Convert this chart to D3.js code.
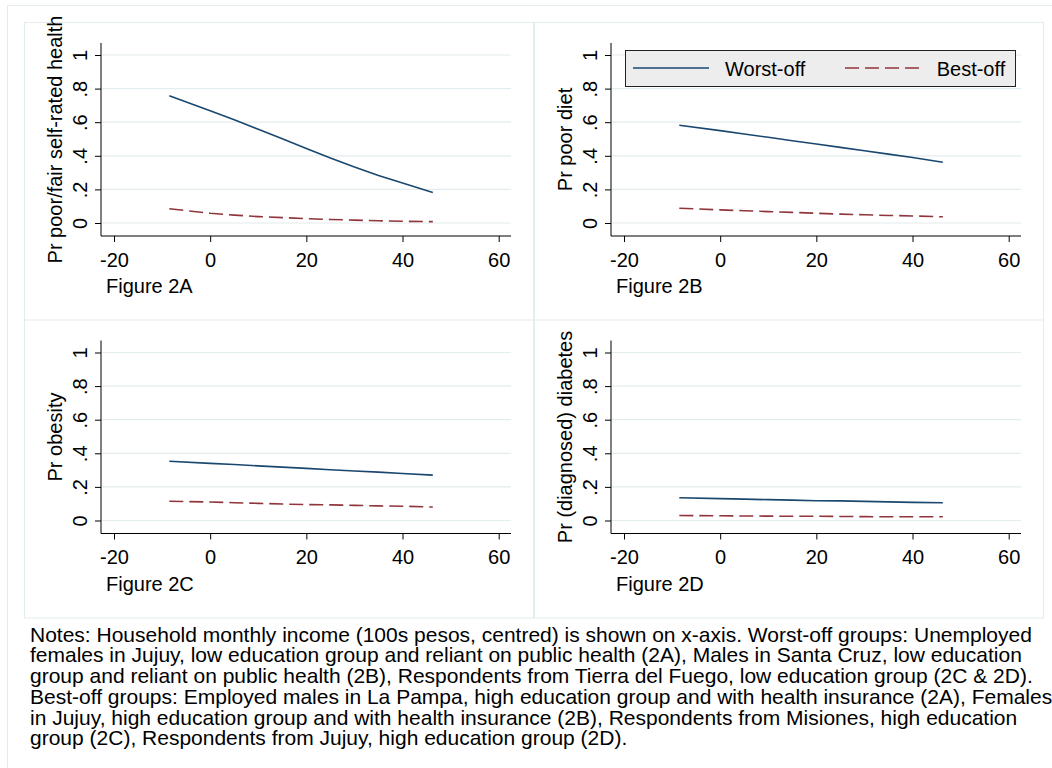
<!DOCTYPE html>
<html>
<head>
<meta charset="utf-8">
<script src="https://cdn.jsdelivr.net/npm/d3@7"></script>
<style>
  body { margin: 0; background: #fff; }
  svg text { font-family: "Liberation Sans", Arial, Helvetica, sans-serif; fill: #000; }
</style>
</head>
<body>
<div id="chart"></div>
<script>
// income (100s pesos, centred) where the predictions were evaluated
const income = [-8.5, 0, 5, 10, 15, 20, 25, 30, 35, 40, 46.3];

const worst2A = [0.758, 0.668, 0.614, 0.558, 0.501, 0.443, 0.387, 0.333, 0.283, 0.238, 0.182];
const best2A  = [0.085, 0.058, 0.047, 0.038, 0.032, 0.026, 0.021, 0.017, 0.013, 0.01, 0.008];
const worst2B = [0.582, 0.55, 0.53, 0.51, 0.49, 0.47, 0.45, 0.43, 0.41, 0.39, 0.362];
const best2B  = [0.088, 0.078, 0.073, 0.068, 0.063, 0.058, 0.053, 0.049, 0.045, 0.042, 0.037];
const worst2C = [0.353, 0.34, 0.333, 0.325, 0.318, 0.31, 0.302, 0.295, 0.288, 0.28, 0.27];
const best2C  = [0.115, 0.11, 0.106, 0.102, 0.098, 0.095, 0.093, 0.09, 0.087, 0.085, 0.08];
const worst2D = [0.135, 0.13, 0.127, 0.124, 0.121, 0.118, 0.117, 0.114, 0.111, 0.108, 0.106];
const best2D  = [0.03, 0.028, 0.027, 0.026, 0.025, 0.025, 0.024, 0.023, 0.022, 0.022, 0.022];

const xTicks = [-20, 0, 20, 40, 60];
const yTicks = [0, 0.2, 0.4, 0.6, 0.8, 1];
const yTickLabels = ["0", ".2", ".4", ".6", ".8", "1"];

const yTitles = ["Pr poor/fair self-rated health", "Pr poor diet", "Pr obesity", "Pr (diagnosed) diabetes"];
const captions = ["Figure 2A", "Figure 2B", "Figure 2C", "Figure 2D"];
const legendLabels = ["Worst-off", "Best-off"];

const notes = [
  "Notes: Household monthly income (100s pesos, centred) is shown on x-axis. Worst-off groups: Unemployed",
  "females in Jujuy, low education group and reliant on public health (2A), Males in Santa Cruz, low education",
  "group and reliant on public health (2B), Respondents from Tierra del Fuego, low education group (2C & 2D).",
  "Best-off groups: Employed males in La Pampa, high education group and with health insurance (2A), Females",
  "in Jujuy, high education group and with health insurance (2B), Respondents from Misiones, high education",
  "group (2C), Respondents from Jujuy, high education group (2D)."
];

const worstCol = "#1a476f", bestCol = "#90353b", gridCol = "#e3ecee";
const fs = 20;

const svg = d3.select("#chart").append("svg")
  .attr("width", 1052).attr("height", 768);

// outer graph frame (only top and left edges fall inside the window)
svg.append("rect").attr("x", 7.5).attr("y", 5.5).attr("width", 1100).attr("height", 800)
  .attr("fill", "none").attr("stroke", gridCol);

const panels = [
  {L: 24, T: 22, w: worst2A, b: best2A},
  {L: 534, T: 22, w: worst2B, b: best2B},
  {L: 24, T: 319.5, w: worst2C, b: best2C},
  {L: 534, T: 319.5, w: worst2D, b: best2D}
];

panels.forEach(function(p, i) {
  const g = svg.append("g");
  g.append("rect").attr("x", p.L + 0.5).attr("y", p.T + 0.5)
    .attr("width", 509).attr("height", 298)
    .attr("fill", "#fff").attr("stroke", gridCol);

  const x = d3.scaleLinear().domain([-20, 60]).range([p.L + 90, p.L + 474.7]);
  const y = d3.scaleLinear().domain([0, 1]).range([p.T + 201, p.T + 33]);
  const axX = p.L + 77, axY = p.T + 214;

  // grid
  g.selectAll(".grid").data(yTicks).enter().append("line")
    .attr("x1", axX).attr("x2", p.L + 487)
    .attr("y1", d => y(d)).attr("y2", d => y(d))
    .attr("stroke", gridCol).attr("stroke-width", 1.2);

  // x axis
  const xa = g.append("g").attr("transform", "translate(0," + axY + ")")
    .call(d3.axisBottom(x).tickValues(xTicks).tickSize(6).tickFormat(d3.format("d")));
  xa.select(".domain").remove();
  xa.selectAll("line").attr("stroke", "#000");
  xa.selectAll("text").attr("y", 30.7).attr("dy", 0)
    .style("font-size", fs + "px").text(d => d < 0 ? "-" + Math.abs(d) : d);

  // y axis
  const ya = g.append("g").attr("transform", "translate(" + axX + ",0)")
    .call(d3.axisLeft(y).tickValues(yTicks).tickSize(6).tickFormat((d, j) => yTickLabels[j]));
  ya.select(".domain").remove();
  ya.selectAll("line").attr("stroke", "#000");
  ya.selectAll("text").attr("x", 0).attr("y", -14).attr("dy", 0)
    .attr("text-anchor", "middle").attr("transform", "rotate(-90)")
    .style("font-size", fs + "px");

  g.append("line").attr("x1", axX).attr("x2", axX).attr("y1", p.T + 21).attr("y2", axY)
    .attr("stroke", "#000");
  g.append("line").attr("x1", axX).attr("x2", p.L + 487).attr("y1", axY).attr("y2", axY)
    .attr("stroke", "#000");

  // series
  const line = d3.line().x((d, j) => x(income[j])).y(d => y(d));
  g.append("path").datum(p.b).attr("d", line).attr("fill", "none")
    .attr("stroke", bestCol).attr("stroke-width", 1.6).attr("stroke-dasharray", "14,6");
  g.append("path").datum(p.w).attr("d", line).attr("fill", "none")
    .attr("stroke", worstCol).attr("stroke-width", 1.6);

  // titles
  g.append("text")
    .attr("transform", "translate(" + (p.L + 38) + "," + (p.T + 117.5) + ") rotate(-90)")
    .attr("text-anchor", "middle").style("font-size", fs + "px").text(yTitles[i]);
  g.append("text").attr("x", p.L + 82).attr("y", p.T + 271)
    .style("font-size", fs + "px").text(captions[i]);

  // legend sits inside panel 2B
  if (i === 1) {
    const lg = g.append("g");
    lg.append("rect").attr("x", p.L + 91.5).attr("y", p.T + 28.5)
      .attr("width", 390).attr("height", 36)
      .attr("fill", "#ededed").attr("stroke", "#222");
    lg.append("line").attr("x1", p.L + 99).attr("x2", p.L + 175)
      .attr("y1", p.T + 46).attr("y2", p.T + 46)
      .attr("stroke", worstCol).attr("stroke-width", 1.6);
    lg.append("text").attr("x", p.L + 191).attr("y", p.T + 54)
      .style("font-size", fs + "px").text(legendLabels[0]);
    lg.append("line").attr("x1", p.L + 311).attr("x2", p.L + 387)
      .attr("y1", p.T + 46).attr("y2", p.T + 46)
      .attr("stroke", bestCol).attr("stroke-width", 1.6).attr("stroke-dasharray", "14,6");
    lg.append("text").attr("x", p.L + 402.7).attr("y", p.T + 54)
      .style("font-size", fs + "px").text(legendLabels[1]);
  }
});

// notes under the panels
svg.append("g").selectAll("text").data(notes).enter().append("text")
  .attr("x", 30).attr("y", (d, i) => 641.7 + i * 20.7)
  .style("font-size", "21px").text(d => d);
</script>
</body>
</html>
